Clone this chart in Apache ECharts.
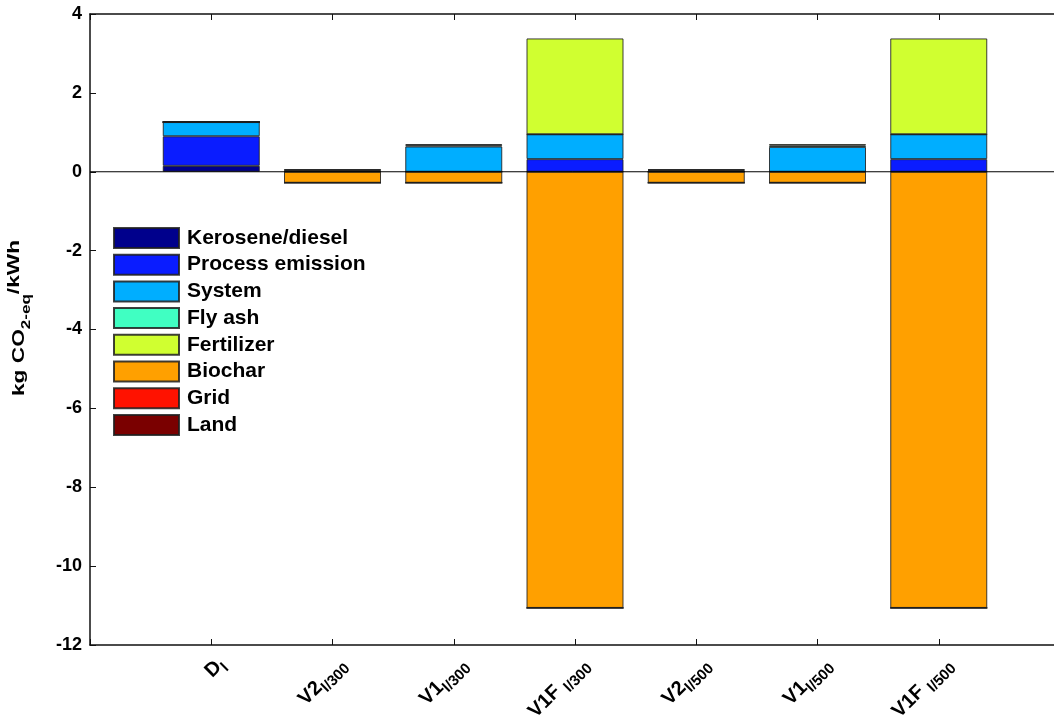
<!DOCTYPE html>
<html>
<head>
<meta charset="utf-8">
<script src="https://cdn.jsdelivr.net/npm/echarts@6/dist/echarts.min.js"></script>
<style>
  html, body { margin: 0; padding: 0; background: #fff; }
  #chart { width: 1054px; height: 717px; }
</style>
</head>
<body>
<div id="chart"></div>
<script>
// Scenario labels: main part and subscript
const scenarioMain = ['D', 'V2', 'V1', 'V1F ', 'V2', 'V1', 'V1F '];
const scenarioSub = ['l', 'l/300', 'l/300', 'l/300', 'l/500', 'l/500', 'l/500'];

// Emission contributions per scenario (kg CO2-eq/kWh)
const kerosene = [0.15, 0, 0, 0, 0, 0, 0];
const processEmission = [0.75, 0, 0, 0.32, 0, 0, 0.32];
const system = [0.36, 0.03, 0.64, 0.63, 0.03, 0.63, 0.63];
const flyAsh = [0, 0.015, 0.03, 0, 0.015, 0.035, 0];
const fertilizer = [0, 0.015, 0.03, 2.43, 0.015, 0.035, 2.43];
const biochar = [0, -0.28, -0.28, -11.06, -0.28, -0.28, -11.06];
const grid = [0, 0, 0, 0, 0, 0, 0];
const land = [0, 0, 0, 0, 0, 0, 0];

const yTicks = [-12, -10, -8, -6, -4, -2, 0, 2, 4];

const seriesDefs = [
  ['Kerosene/diesel', kerosene, '#00008c'],
  ['Process emission', processEmission, '#0a1cff'],
  ['System', system, '#00aeff'],
  ['Fly ash', flyAsh, '#40ffc2'],
  ['Fertilizer', fertilizer, '#d0ff30'],
  ['Biochar', biochar, '#ffa000'],
  ['Grid', grid, '#ff1200'],
  ['Land', land, '#7a0000']
];

const FONT = '"Liberation Sans", Arial, sans-serif';
const AXIS_COLOR = '#111';

// Frame spans x = 0..8; the scenarios sit at 1..7
const FRAME_LEFT = 90, FRAME_TOP = 14, FRAME_W = 970, FRAME_H = 631;
const UNIT = FRAME_W / 8;

const barSeries = seriesDefs.map(([name, vals, color]) => ({
  name: name,
  type: 'bar',
  stack: 'total',
  xAxisIndex: 0,
  yAxisIndex: 0,
  barWidth: '80%',
  data: vals,
  z: 2,
  itemStyle: { color: color, borderColor: 'rgba(30,30,30,0.85)', borderWidth: 1 },
  emphasis: { disabled: true }
}));

// zero baseline across the whole frame
const zeroLine = {
  name: 'zero',
  type: 'line',
  xAxisIndex: 1,
  yAxisIndex: 1,
  data: [[0, 0], [8, 0]],
  symbol: 'none',
  silent: true,
  z: 5,
  lineStyle: { color: '#000', width: 1 }
};

const tickStyle = { show: true, inside: true, length: 6, lineStyle: { color: AXIS_COLOR, width: 1 } };
const lineStyle = { show: true, onZero: false, lineStyle: { color: AXIS_COLOR, width: 1.5 } };

const chart = echarts.init(document.getElementById('chart'));
chart.setOption({
  animation: false,
  backgroundColor: '#fff',
  grid: [
    { left: FRAME_LEFT + UNIT / 2, top: FRAME_TOP, width: UNIT * 7, height: FRAME_H, outerBoundsMode: 'none', containLabel: false },
    { left: FRAME_LEFT, top: FRAME_TOP, width: FRAME_W, height: FRAME_H, outerBoundsMode: 'none', containLabel: false }
  ],
  legend: {
    orient: 'vertical',
    left: 113,
    top: 227,
    padding: 0,
    itemWidth: 65,
    itemHeight: 20,
    itemGap: 4.7,
    icon: 'rect',
    textStyle: { fontFamily: FONT, fontSize: 21, fontWeight: 'bold', color: '#000', lineHeight: 20, padding: [0, 0, 0, 3] },
    data: seriesDefs.map(d => d[0])
  },
  // y-axis title, drawn elongated along its reading direction
  graphic: [{
    type: 'text',
    x: 20,
    y: 318,
    rotation: Math.PI / 2,
    scaleX: 1.42,
    scaleY: 1,
    silent: true,
    style: {
      text: '{a|kg CO}{b|2-eq}{c|/kWh}',
      align: 'center',
      verticalAlign: 'middle',
      rich: {
        a: { fontFamily: FONT, fontSize: 16, fontWeight: 'bold', fill: '#000', lineHeight: 26, verticalAlign: 'middle' },
        b: { fontFamily: FONT, fontSize: 12, fontWeight: 'bold', fill: '#000', lineHeight: 12, verticalAlign: 'bottom' },
        c: { fontFamily: FONT, fontSize: 16, fontWeight: 'bold', fill: '#000', lineHeight: 22, verticalAlign: 'top' }
      }
    }
  }],
  xAxis: [
    {
      type: 'category',
      gridIndex: 0,
      data: scenarioMain.map((m, i) => m + scenarioSub[i]),
      show: false
    },
    {
      type: 'value',
      gridIndex: 1,
      position: 'bottom',
      min: 0, max: 8, interval: 1,
      splitLine: { show: false },
      axisLine: lineStyle,
      axisTick: tickStyle,
      axisLabel: {
        rotate: 45,
        margin: 6,
        verticalAlign: 'top',
        formatter: function (v) {
          const i = Math.round(v) - 1;
          if (i < 0 || i >= scenarioMain.length || v !== Math.round(v)) return '';
          return '{m|' + scenarioMain[i] + '}{s|' + scenarioSub[i] + '}';
        },
        rich: {
          m: { fontFamily: FONT, fontSize: 20, fontWeight: 'bold', color: '#000', lineHeight: 29, verticalAlign: 'middle' },
          s: { fontFamily: FONT, fontSize: 15, fontWeight: 'bold', color: '#000', lineHeight: 15, verticalAlign: 'bottom' }
        }
      }
    },
    {
      type: 'value',
      gridIndex: 1,
      position: 'top',
      min: 0, max: 8, interval: 1,
      splitLine: { show: false },
      axisLine: lineStyle,
      axisTick: tickStyle,
      axisLabel: { show: false }
    }
  ],
  yAxis: [
    {
      type: 'value',
      gridIndex: 0,
      min: -12, max: 4, interval: 2,
      show: false
    },
    {
      type: 'value',
      gridIndex: 1,
      min: -12, max: 4, interval: 2,
      splitLine: { show: false },
      axisLine: lineStyle,
      axisTick: tickStyle,
      axisLabel: {
        margin: 8,
        fontFamily: FONT, fontSize: 18, fontWeight: 'bold', color: '#000',
        formatter: v => (yTicks.includes(v) ? String(v) : '')
      }
    }
  ],
  series: barSeries.concat([zeroLine])
});
</script>
</body>
</html>
